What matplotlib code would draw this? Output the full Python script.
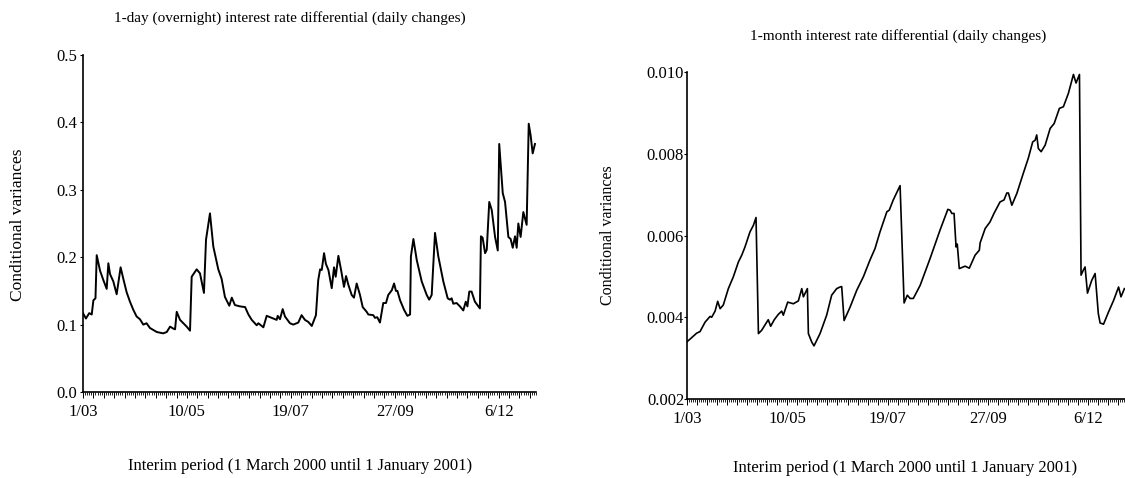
import matplotlib
matplotlib.use("Agg")
import matplotlib.pyplot as plt
from matplotlib.ticker import FixedLocator, FixedFormatter, MultipleLocator

plt.rcParams['font.family'] = ['Liberation Serif', 'DejaVu Serif']

W, H = 1125, 478

# x = trading day since 1 March 2000, y = conditional variance
overnight_day = [0, 1.4, 3, 4.2, 5, 6, 6.6, 8.2, 9.8, 11.4, 12.2, 13, 14.6, 16.2, 18.1,
                 19.4, 21, 22.6, 24.2, 25.8, 27.4, 29, 30.6, 32.2, 33.8, 35.5, 37.1, 38.6,
                 40.3, 41.9, 43.5, 44.3, 45.1, 46.7, 48.3, 49.9, 51.5, 52.3, 54.7, 56.3,
                 58.2, 59.2, 61.1, 62.7, 65.1, 66.7, 68.3, 70.4, 71.6, 73.1, 75.6, 78,
                 79.6, 81.2, 83.6, 84.4, 86.8, 88.4, 90.8, 93.2, 93.7, 94.8, 96.1, 97.2,
                 99.6, 101.2, 103.6, 105.2, 106.8, 108.4, 110.1, 112.1, 113.2, 114.1, 114.9,
                 116, 116.9, 118.1, 119.7, 120.8, 121.6, 122.9, 124.2, 125.6, 126.6, 127.7,
                 129.3, 130.4, 131.7, 133.3, 134.6, 136.5, 137.3, 139.7, 140.5, 141.6, 142.9,
                 144.5, 145.8, 146.9, 148.6, 149.7, 150.6, 151.3, 152.6, 154.5, 156.1, 157.4,
                 157.8, 159, 160.6, 163, 165.4, 166.6, 167.8, 169.4, 171, 173.4, 175.5, 176.6,
                 177.4, 178.2, 179.8, 181.4, 183, 184.2, 185, 185.9, 187, 188.6, 191, 191.5,
                 192.3, 193.5, 194.3, 195.5, 196.7, 198.3, 199.6, 200.3, 202, 203.1, 204.7,
                 205.8, 206.8, 207.9, 208.7, 209.5, 210.6, 211.9, 213.5, 214.5, 215.4, 216.4,
                 217.5]
overnight_var = [0.117, 0.109, 0.117, 0.115, 0.136, 0.139, 0.203, 0.18, 0.166, 0.153, 0.191,
                 0.175, 0.164, 0.145, 0.185, 0.168, 0.148, 0.134, 0.122, 0.112, 0.108, 0.1,
                 0.102, 0.095, 0.092, 0.089, 0.088, 0.087, 0.089, 0.097, 0.094, 0.093, 0.119,
                 0.107, 0.102, 0.097, 0.091, 0.171, 0.182, 0.176, 0.147, 0.226, 0.265, 0.216,
                 0.182, 0.168, 0.141, 0.128, 0.14, 0.129, 0.127, 0.126, 0.115, 0.107, 0.099,
                 0.102, 0.096, 0.113, 0.11, 0.107, 0.113, 0.108, 0.123, 0.112, 0.102, 0.1,
                 0.103, 0.114, 0.107, 0.104, 0.098, 0.114, 0.166, 0.182, 0.181, 0.206, 0.19,
                 0.181, 0.154, 0.185, 0.171, 0.202, 0.181, 0.156, 0.172, 0.159, 0.144, 0.14,
                 0.161, 0.144, 0.126, 0.119, 0.115, 0.114, 0.11, 0.111, 0.103, 0.132, 0.132,
                 0.144, 0.151, 0.161, 0.15, 0.15, 0.136, 0.122, 0.113, 0.115, 0.201, 0.227,
                 0.196, 0.164, 0.144, 0.137, 0.144, 0.236, 0.201, 0.164, 0.139, 0.137, 0.139,
                 0.131, 0.132, 0.127, 0.121, 0.134, 0.127, 0.149, 0.149, 0.134, 0.124, 0.231,
                 0.229, 0.206, 0.211, 0.282, 0.27, 0.23, 0.21, 0.368, 0.295, 0.282, 0.23,
                 0.227, 0.214, 0.231, 0.214, 0.25, 0.23, 0.267, 0.248, 0.398, 0.381, 0.354,
                 0.368]

month_day = [0, 2.3, 4.8, 6.5, 9, 11.5, 12.3, 14, 15.3, 16.5, 18.1, 20.6, 23.1, 25.6, 27.3,
             28.9, 31.4, 33.1, 34.4, 35.6, 37.2, 40.5, 41.7, 43.5, 45.5, 47.2, 48, 50.2, 53,
             55.5, 57.2, 58, 60, 60.5, 62.2, 63.3, 66.3, 69.6, 72.1, 74.6, 76.3, 77.1, 78.3,
             81.3, 84.6, 87.9, 91.2, 93.7, 96.2, 99.6, 100.8, 102.8, 106.2, 108.2, 109.8,
             111.2, 112.8, 116.2, 121.1, 126.1, 130, 131.1, 132, 133.1, 134.1, 134.7, 135.7,
             138.6, 140.7, 143.6, 145.7, 146.1, 148.6, 151, 153, 156, 158, 159.4, 160.2,
             161.9, 164.4, 167.6, 170.1, 172.3, 173.5, 174.3, 175.1, 176.5, 178.5, 181, 183,
             185.6, 187.6, 190.1, 192.6, 193.9, 195.6, 196.4, 197.5, 198.4, 199.6, 201.7,
             203.4, 205, 205.9, 207.6, 210.1, 212.6, 215.1, 216.3, 218]
month_var = [0.0034, 0.0035, 0.00361, 0.00365, 0.00388, 0.00402, 0.004, 0.00415, 0.00439,
             0.00421, 0.0043, 0.0047, 0.00499, 0.00535, 0.00552, 0.00572, 0.00609, 0.00625,
             0.00644, 0.0036, 0.00368, 0.00394, 0.00378, 0.00394, 0.00407, 0.00415, 0.00405,
             0.00437, 0.00433, 0.0044, 0.0047, 0.0045, 0.0047, 0.0036, 0.00339, 0.0033,
             0.0036, 0.00405, 0.00454, 0.0047, 0.00474, 0.00475, 0.00392, 0.00425, 0.00466,
             0.00499, 0.0054, 0.00568, 0.00609, 0.00658, 0.00662, 0.00687, 0.00722, 0.00435,
             0.00454, 0.00446, 0.00446, 0.00478, 0.00543, 0.00613, 0.00664, 0.00662, 0.00654,
             0.00654, 0.00572, 0.00579, 0.00519, 0.00525, 0.0052, 0.00552, 0.00564, 0.00582,
             0.00617, 0.00633, 0.00654, 0.00682, 0.00687, 0.00704, 0.00704, 0.00674, 0.00703,
             0.00752, 0.00789, 0.00829, 0.00833, 0.00846, 0.00813, 0.00805, 0.00821, 0.00862,
             0.00874, 0.00911, 0.00915, 0.00948, 0.00994, 0.00973, 0.00994, 0.00503, 0.00515,
             0.00523, 0.00459, 0.0049, 0.00507, 0.00409, 0.00386, 0.00383, 0.00413, 0.00441,
             0.00474, 0.0045, 0.0047]

date_ticks = [0, 50, 100, 150, 200]
date_labels = ['1/03', '10/05', '19/07', '27/09', '6/12']
left_yticks = [0.0, 0.1, 0.2, 0.3, 0.4, 0.5]
right_yticks = [0.002, 0.004, 0.006, 0.008, 0.010]

left_title = '1-day (overnight) interest rate differential (daily changes)'
right_title = '1-month interest rate differential (daily changes)'
xlab = 'Interim period (1 March 2000 until 1 January 2001)'
ylab = 'Conditional variances'


def px_rect(x0, x1, ytop, ybot):
    return [x0 / W, 1 - ybot / H, (x1 - x0) / W, (ybot - ytop) / H]


def style_axis(ax, yticks, yfmt, xmax, ypad):
    for s in ['top', 'right']:
        ax.spines[s].set_visible(False)
    for s in ['left', 'bottom']:
        ax.spines[s].set_linewidth(1.2)
    ax.set_xlim(0, xmax)
    ax.set_ylim(yticks[0], yticks[-1])
    # longer tick every week, short tick every trading day, labels every 50 days
    majors = list(range(0, int(xmax) + 1, 5))
    labels = [date_labels[date_ticks.index(d)] if d in date_ticks else '' for d in majors]
    ax.xaxis.set_major_locator(FixedLocator(majors))
    ax.xaxis.set_major_formatter(FixedFormatter(labels))
    ax.xaxis.set_minor_locator(MultipleLocator(1))
    ax.tick_params(axis='x', which='major', length=4.3, width=0.7, pad=4, labelsize=12)
    ax.tick_params(axis='x', which='minor', length=2.5, width=0.6)
    ax.set_yticks(yticks)
    ax.set_yticklabels([yfmt.format(v) for v in yticks])
    ax.tick_params(axis='y', length=2, width=0.8, pad=ypad, labelsize=12)


fig = plt.figure(figsize=(W / 100, H / 100), dpi=100)

ax1 = fig.add_axes(px_rect(83, 536, 55, 392))
ax1.plot(overnight_day, overnight_var, color='black', lw=1.4)
style_axis(ax1, left_yticks, '{:.1f}', 218, 2)

ax2 = fig.add_axes(px_rect(687, 1125, 72, 399))
ax2.plot(month_day, month_var, color='black', lw=1.2)
style_axis(ax2, right_yticks, '{:.3f}', 218.3, 0)

fig.text(290 / W, 1 - 18 / H, left_title, ha='center', va='center', fontsize=11)
fig.text(898 / W, 1 - 36 / H, right_title, ha='center', va='center', fontsize=11)
fig.text(300 / W, 1 - 466 / H, xlab, ha='center', va='center', fontsize=12)
fig.text(905 / W, 1 - 468 / H, xlab, ha='center', va='center', fontsize=12)
fig.text(18 / W, 1 - 225 / H, ylab, ha='center', va='center', rotation=90, fontsize=12.5)
fig.text(608 / W, 1 - 235 / H, ylab, ha='center', va='center', rotation=90, fontsize=11.5)

fig.savefig('out.png', dpi=100)
